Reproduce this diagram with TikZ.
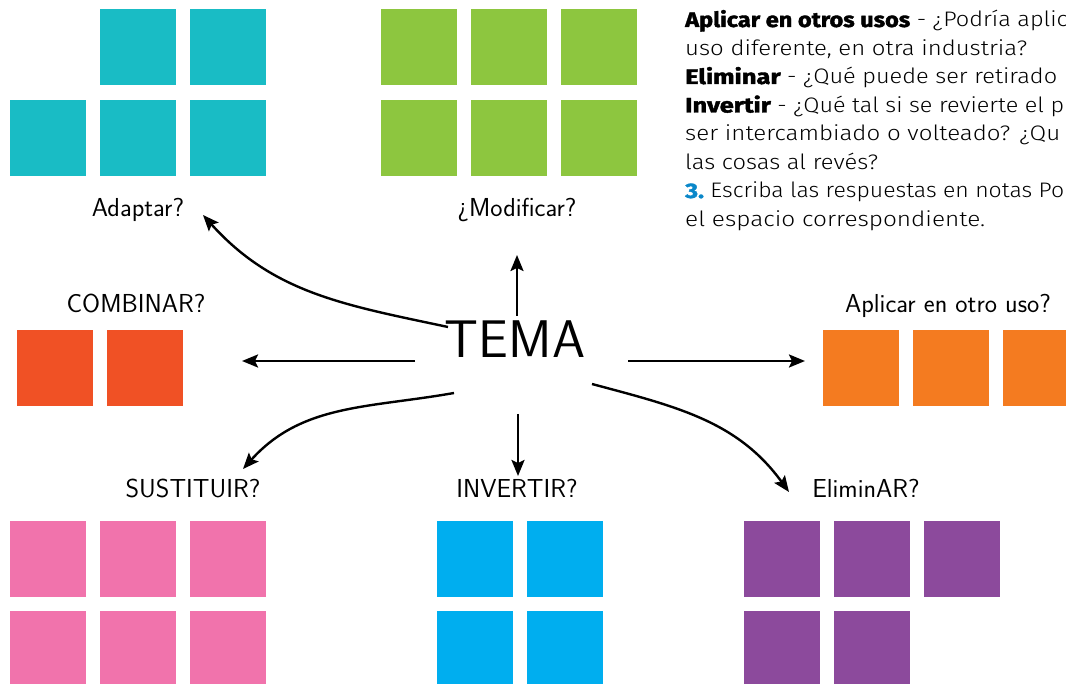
\documentclass[tikz,border=0pt]{standalone}
\usepackage{graphicx}
\usepackage{fontspec}
\setmainfont{Fira Sans}[UprightFont=* Light, BoldFont=* Bold, BoldFeatures={FakeBold=1.8}]
\usetikzlibrary{arrows.meta}
\definecolor{cteal}{HTML}{19BCC5}
\definecolor{cgreen}{HTML}{8DC63F}
\definecolor{cred}{HTML}{F05125}
\definecolor{corange}{HTML}{F47B20}
\definecolor{cpink}{HTML}{F173AC}
\definecolor{cblue}{HTML}{00AEEF}
\definecolor{cpurple}{HTML}{8C4A9C}
\definecolor{cnum}{HTML}{0A87C9}
\newcommand\fitw[2]{\resizebox{#1pt}{\height}{#2}}
\newcommand\hb[1]{\scalebox{1.08}[1]{\textbf{#1}}}
\begin{document}
\begin{tikzpicture}[x=1pt,y=-1pt,
  hand/.style={font=\sffamily\fontsize{26}{30}\selectfont, inner sep=0pt, anchor=base},
  body/.style={font=\fontsize{21}{25}\selectfont, inner sep=0pt, anchor=base west},
  conn/.style={line width=2.4pt, -{Stealth[length=16pt,width=13pt,inset=3pt]}}]
\useasboundingbox (0,0) rectangle (1066,684);
\clip (0,0) rectangle (1066,684);
% squares
\foreach \x/\y in {100/9,190/9,10/100,100/100,190/100} \fill[cteal] (\x,\y) rectangle ++(76,76);
\foreach \x/\y in {381/9,471/9,561/9,381/100,471/100,561/100} \fill[cgreen] (\x,\y) rectangle ++(76,76);
\foreach \x in {17,107} \fill[cred] (\x,330) rectangle ++(76,76);
\foreach \x in {823,913,1003} \fill[corange] (\x,330) rectangle ++(76,76);
\foreach \x/\y in {10/521,100/521,190/521,10/611,100/611,190/611} \fill[cpink] (\x,\y) rectangle ++(76,76);
\foreach \x/\y in {437/521,527/521,437/611,527/611} \fill[cblue] (\x,\y) rectangle ++(76,76);
\foreach \x/\y in {744/521,834/521,924/521,744/611,834/611} \fill[cpurple] (\x,\y) rectangle ++(76,76);
% labels
\node[hand] (adaptar) at (138,217) {Adaptar?};
\node[hand] (modificar) at (517,217) {¿Modificar?};
\node[hand] (combinar) at (136,313) {COMBINAR?};
\node[hand] (aplicar) at (948,313) {Aplicar en otro uso?};
\node[hand] (sustituir) at (193,497) {SUSTITUIR?};
\node[hand] (invertir) at (517,497) {INVERTIR?};
\node[hand] (eliminar) at (866,497) {EliminAR?};
\node[hand, font=\sffamily\fontsize{53}{60}\selectfont] (tema) at (515,358) {TEMA};
% connector ends
\coordinate (sUL) at (448,327); \coordinate (eUL) at (203,215);
\coordinate (sUp) at (517,316); \coordinate (eUp) at (517,255);
\coordinate (sL) at (415,361);  \coordinate (eL) at (242,361);
\coordinate (sR) at (628,361);  \coordinate (eR) at (805,361);
\coordinate (sDL) at (454,393); \coordinate (eDL) at (243,469);
\coordinate (sDn) at (518,414); \coordinate (eDn) at (518,476);
\coordinate (sDR) at (592,384); \coordinate (eDR) at (789,492);
\draw[conn] (sUL) to[out=168,in=-48] (eUL);
\draw[conn] (sUp) -- (eUp);
\draw[conn] (sL) -- (eL);
\draw[conn] (sR) -- (eR);
\draw[conn] (sDL) to[out=190,in=48] (eDL);
\draw[conn] (sDn) -- (eDn);
\draw[conn] (sDR) to[out=-15,in=126] (eDR);
% text block
\node[body] (t1) at (685,27) {\fitw{225}{\textbf{Aplicar en otros usos}}\scalebox{1.12}[1]{ - ¿Podría aplic}};
\node[body] (t2) at (685,55.5) {\fitw{342}{uso diferente, en otra industria?}};
\node[body] (t3) at (685,84) {\fitw{372}{\hb{Eliminar} - ¿Qué puede ser retirado}};
\node[body] (t4) at (685,112.5) {\fitw{379}{\hb{Invertir} - ¿Qué tal si se revierte el p}};
\node[body] (t5) at (685,141) {\fitw{375}{ser intercambiado o volteado? ¿Qu}};
\node[body] (t6) at (685,169.5) {\fitw{193}{las cosas al revés?}};
\node[body] (t7) at (685,198) {\fitw{379}{\hb{\color{cnum}3.} Escriba las respuestas en notas Po}};
\node[body] (t8) at (685,226.5) {\fitw{300}{el espacio correspondiente.}};
\end{tikzpicture}
\end{document}
